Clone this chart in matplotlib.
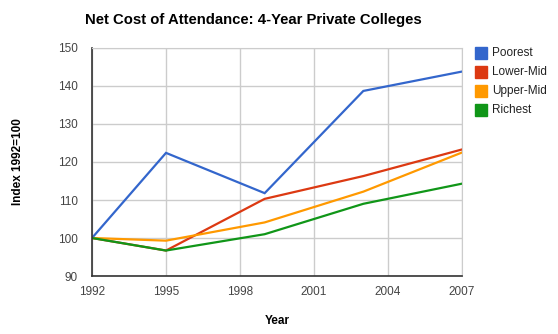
import matplotlib
matplotlib.use("Agg")
import matplotlib.pyplot as plt
import matplotlib.patches as mpatches

plt.rcParams['font.family'] = ['Liberation Sans', 'DejaVu Sans']

years = [1992, 1995, 1999, 2003, 2007]
poorest = [100, 122.4, 111.8, 138.7, 143.8]
lower_mid = [100, 96.7, 110.3, 116.3, 123.3]
upper_mid = [100, 99.3, 104.1, 112.2, 122.5]
richest = [100, 96.7, 101.0, 109.0, 114.3]

names = ['Poorest', 'Lower-Mid', 'Upper-Mid', 'Richest']
colors = ['#3366CC', '#DC3912', '#FF9900', '#109618']
xticks = [1992, 1995, 1998, 2001, 2004, 2007]
yticks = [90, 100, 110, 120, 130, 140, 150]

fig = plt.figure(figsize=(5.58, 3.34), dpi=100)
ax = fig.add_axes([92/558, 58/334, 370/558, 228/334])

for vals, c in zip([poorest, lower_mid, upper_mid, richest], colors):
    ax.plot(years, vals, color=c, lw=1.6, solid_joinstyle='miter')

ax.set_xlim(1992, 2007)
ax.set_ylim(90, 150)
ax.set_xticks(xticks)
ax.set_yticks(yticks)
ax.grid(True, color='#CCCCCC', lw=1)
ax.set_axisbelow(True)
ax.tick_params(length=0, labelsize=8.5, colors='#444444')
ax.tick_params(axis='y', pad=10)
ax.tick_params(axis='x', pad=7)
for s in ['top', 'right']:
    ax.spines[s].set_color('#CCCCCC')
for s in ['left', 'bottom']:
    ax.spines[s].set_color('#333333')
    ax.spines[s].set_linewidth(1.2)

fig.text(85/558, 1 - 20/334, 'Net Cost of Attendance: 4-Year Private Colleges',
         fontsize=10.7, fontweight='bold', ha='left', va='center')
fig.text(277/558, 1 - 321/334, 'Year', fontsize=8.5, fontweight='bold',
         ha='center', va='center')
fig.text(18/558, 1 - 162/334, 'Index 1992=100', fontsize=8.5, fontweight='bold',
         rotation=90, ha='center', va='center')

for i, (n, c) in enumerate(zip(names, colors)):
    y = 53 + i * 19
    fig.patches.append(mpatches.Rectangle((475/558, 1 - (y + 6)/334), 12/558, 12/334,
                                          transform=fig.transFigure, color=c))
    fig.text(492/558, 1 - y/334, n, fontsize=8.5, color='#222222', ha='left', va='center')

fig.savefig('out.png', dpi=100)
